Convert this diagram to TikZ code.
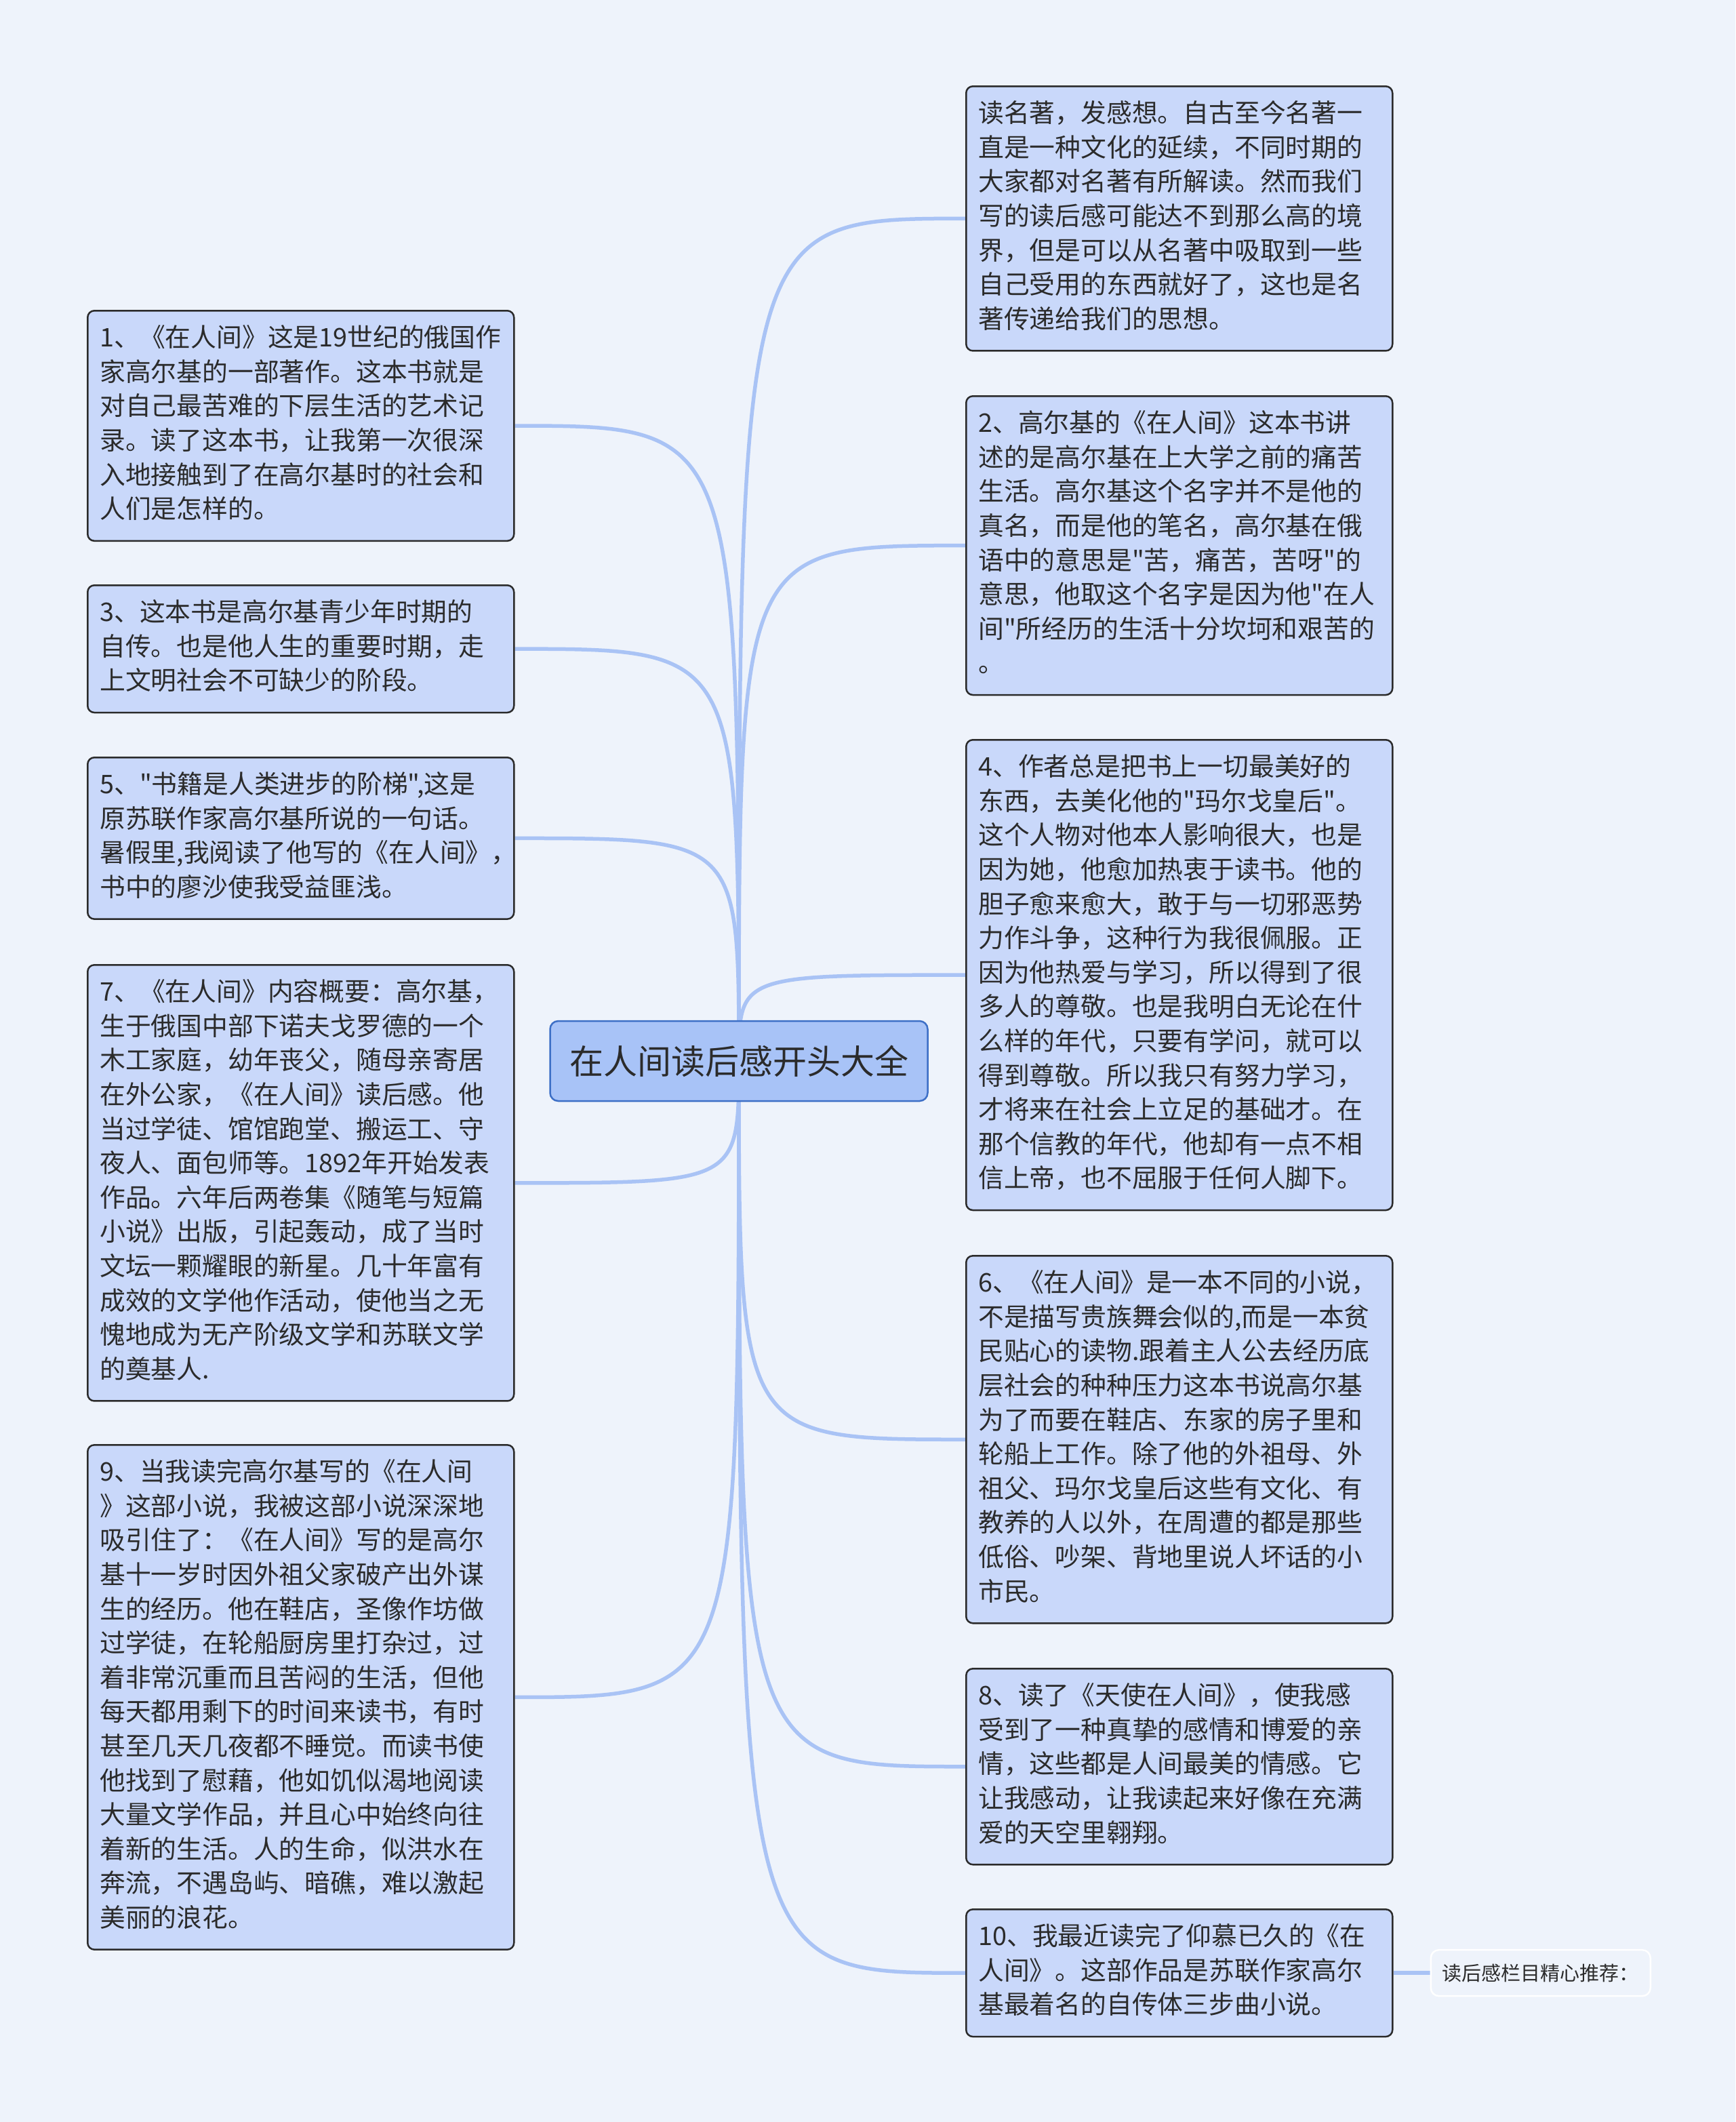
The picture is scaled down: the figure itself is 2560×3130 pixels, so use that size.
\documentclass[tikz,border=0pt]{standalone}
\usepackage{fontspec}
\setmainfont{Noto Sans CJK SC}[Ligatures=TeXOff]
\usepackage{xcolor}
\usepackage{tikz}
\usetikzlibrary{positioning,backgrounds}

\definecolor{bgblue}{HTML}{EEF3FB}
\definecolor{leafblue}{HTML}{C9D8FA}
\definecolor{rootblue}{HTML}{A8C3F7}
\definecolor{rootedge}{HTML}{3D6FC6}
\definecolor{linkblue}{HTML}{A9C3F5}
\definecolor{inkgray}{HTML}{2B2B2B}

\begin{document}
\begin{tikzpicture}[x=1pt, y=-1pt,
    leaf/.style={draw=inkgray, line width=2.5pt, fill=leafblue, rounded corners=10pt,
        anchor=north west, align=left, text width=593pt, inner xsep=18pt, inner ysep=18pt,
        text=inkgray, font=\fontsize{37.8}{50.6}\selectfont,
        execute at begin node=\strut, execute at end node=\strut},
    topic/.style={draw=rootedge, line width=2.5pt, fill=rootblue, rounded corners=12pt,
        minimum width=557pt, minimum height=118pt, text=inkgray, font=\fontsize{50}{60}\selectfont},
    tip/.style={draw=white, line width=2.5pt, fill=bgblue, rounded corners=12pt,
        minimum height=68pt, inner xsep=17pt, text=inkgray, font=\fontsize{29}{35}\selectfont},
    link/.style={draw=linkblue, line width=5.5pt}]
    \useasboundingbox (0,0) rectangle (2560,3130);

    \node[topic] (root) at (1090,1565) {在人间读后感开头大全};

    \node[leaf] (n1) at (128,457) {1、《在人间》这是19世纪的俄国作\\
        家高尔基的一部著作。这本书就是\\
        对自己最苦难的下层生活的艺术记\\
        录。读了这本书，让我第一次很深\\
        入地接触到了在高尔基时的社会和\\
        人们是怎样的。};
    \node[leaf] (n3) at (128,862) {3、这本书是高尔基青少年时期的\\
        自传。也是他人生的重要时期，走\\
        上文明社会不可缺少的阶段。};
    \node[leaf] (n5) at (128,1116) {5、"书籍是人类进步的阶梯",这是\\
        原苏联作家高尔基所说的一句话。\\
        暑假里,我阅读了他写的《在人间》，\\
        书中的廖沙使我受益匪浅。};
    \node[leaf] (n7) at (128,1422) {7、《在人间》内容概要：高尔基，\\
        生于俄国中部下诺夫戈罗德的一个\\
        木工家庭，幼年丧父，随母亲寄居\\
        在外公家，《在人间》读后感。他\\
        当过学徒、馆馆跑堂、搬运工、守\\
        夜人、面包师等。1892年开始发表\\
        作品。六年后两卷集《随笔与短篇\\
        小说》出版，引起轰动，成了当时\\
        文坛一颗耀眼的新星。几十年富有\\
        成效的文学他作活动，使他当之无\\
        愧地成为无产阶级文学和苏联文学\\
        的奠基人.};
    \node[leaf] (n9) at (128,2130) {9、当我读完高尔基写的《在人间\\
        》这部小说，我被这部小说深深地\\
        吸引住了：《在人间》写的是高尔\\
        基十一岁时因外祖父家破产出外谋\\
        生的经历。他在鞋店，圣像作坊做\\
        过学徒，在轮船厨房里打杂过，过\\
        着非常沉重而且苦闷的生活，但他\\
        每天都用剩下的时间来读书，有时\\
        甚至几天几夜都不睡觉。而读书使\\
        他找到了慰藉，他如饥似渴地阅读\\
        大量文学作品，并且心中始终向往\\
        着新的生活。人的生命，似洪水在\\
        奔流，不遇岛屿、暗礁，难以激起\\
        美丽的浪花。};

    \node[leaf] (n0) at (1424,126) {读名著，发感想。自古至今名著一\\
        直是一种文化的延续，不同时期的\\
        大家都对名著有所解读。然而我们\\
        写的读后感可能达不到那么高的境\\
        界，但是可以从名著中吸取到一些\\
        自己受用的东西就好了，这也是名\\
        著传递给我们的思想。};
    \node[leaf] (n2) at (1424,583) {2、高尔基的《在人间》这本书讲\\
        述的是高尔基在上大学之前的痛苦\\
        生活。高尔基这个名字并不是他的\\
        真名，而是他的笔名，高尔基在俄\\
        语中的意思是"苦，痛苦，苦呀"的\\
        意思，他取这个名字是因为他"在人\\
        间"所经历的生活十分坎坷和艰苦的\\
        。};
    \node[leaf] (n4) at (1424,1090) {4、作者总是把书上一切最美好的\\
        东西，去美化他的"玛尔戈皇后"。\\
        这个人物对他本人影响很大，也是\\
        因为她，他愈加热衷于读书。他的\\
        胆子愈来愈大，敢于与一切邪恶势\\
        力作斗争，这种行为我很佩服。正\\
        因为他热爱与学习，所以得到了很\\
        多人的尊敬。也是我明白无论在什\\
        么样的年代，只要有学问，就可以\\
        得到尊敬。所以我只有努力学习，\\
        才将来在社会上立足的基础才。在\\
        那个信教的年代，他却有一点不相\\
        信上帝，也不屈服于任何人脚下。};
    \node[leaf] (n6) at (1424,1851) {6、《在人间》是一本不同的小说，\\
        不是描写贵族舞会似的,而是一本贫\\
        民贴心的读物.跟着主人公去经历底\\
        层社会的种种压力这本书说高尔基\\
        为了而要在鞋店、东家的房子里和\\
        轮船上工作。除了他的外祖母、外\\
        祖父、玛尔戈皇后这些有文化、有\\
        教养的人以外，在周遭的都是那些\\
        低俗、吵架、背地里说人坏话的小\\
        市民。};
    \node[leaf] (n8) at (1424,2460) {8、读了《天使在人间》，使我感\\
        受到了一种真挚的感情和博爱的亲\\
        情，这些都是人间最美的情感。它\\
        让我感动，让我读起来好像在充满\\
        爱的天空里翱翔。};
    \node[leaf] (n10) at (1424,2815) {10、我最近读完了仰慕已久的《在\\
        人间》。这部作品是苏联作家高尔\\
        基最着名的自传体三步曲小说。};

    \node[tip, right=54pt of n10] (tip) {读后感栏目精心推荐：};

    \begin{scope}[on background layer]
        \fill[bgblue] (0,0) rectangle (2560,3130);
        \foreach \n in {n1,n3,n5,n7,n9}
            \draw[link] (root.center) .. controls (root.center |- \n.east) .. (\n.east);
        \foreach \n in {n0,n2,n4,n6,n8,n10}
            \draw[link] (root.center) .. controls (root.center |- \n.west) .. (\n.west);
        \draw[link] (n10.east) -- (tip.west);
    \end{scope}
\end{tikzpicture}
\end{document}
